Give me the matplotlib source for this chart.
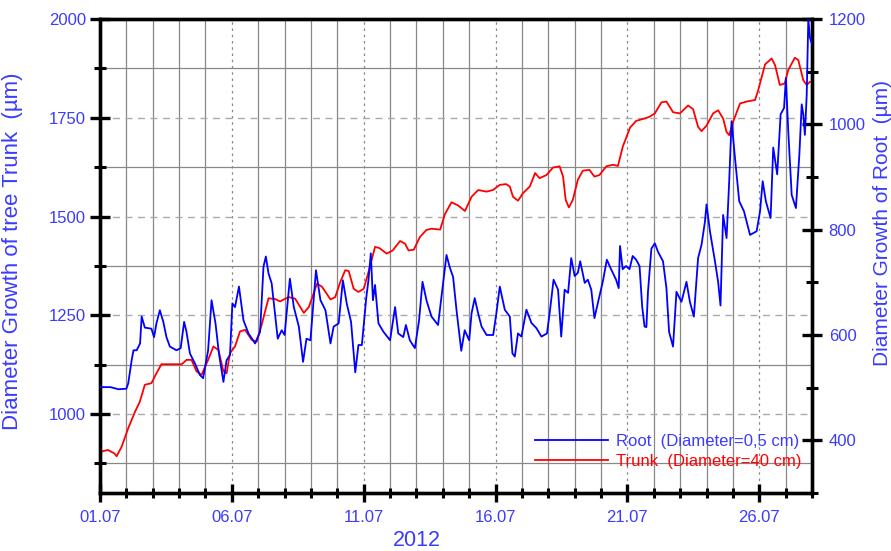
import matplotlib
matplotlib.use("Agg")
import matplotlib.pyplot as plt
from matplotlib.lines import Line2D
from matplotlib.ticker import MultipleLocator, FixedLocator

plt.rcParams['font.family'] = ['Liberation Sans', 'DejaVu Sans']

# days since 01.07.2012
trunk_day = [0, 0.05, 0.3, 0.55, 0.63, 0.82, 1.07, 1.33, 1.51, 1.7, 1.95, 2.14, 2.33, 3.1, 3.28,
             3.47, 3.66, 3.85, 4.1, 4.3, 4.49, 4.68, 4.8, 4.93, 5.12, 5.31, 5.5, 5.75, 5.94, 6.13,
             6.39, 6.64, 6.83, 7.0, 7.16, 7.4, 7.73, 7.92, 8.23, 8.42, 8.74, 8.92, 9.11, 9.3, 9.43,
             9.62, 9.8, 10.0, 10.18, 10.43, 10.6, 10.87, 11.1, 11.38, 11.57, 11.7, 11.9, 12.13,
             12.38, 12.57, 12.9, 13.08, 13.33, 13.58, 13.84, 14.09, 14.34, 14.66, 14.9, 15.16,
             15.4, 15.54, 15.66, 15.85, 16.04, 16.3, 16.5, 16.67, 16.93, 17.18, 17.43, 17.56,
             17.66, 17.78, 17.93, 18.12, 18.31, 18.56, 18.75, 18.94, 19.2, 19.45, 19.64, 19.83,
             20.1, 20.33, 20.7, 20.85, 21.04, 21.29, 21.48, 21.73, 21.99, 22.3, 22.49, 22.68,
             22.81, 23.0, 23.25, 23.44, 23.63, 23.76, 23.86, 24.01, 24.27, 24.52, 24.84, 24.96,
             25.22, 25.47, 25.6, 25.78, 25.97, 26.1, 26.35, 26.48, 26.67, 26.8, 26.92]
trunk_um = [835, 905, 909, 900, 893, 917, 964, 1006, 1031, 1074, 1078, 1103, 1126, 1126, 1137,
            1137, 1108, 1099, 1137, 1171, 1162, 1108, 1103, 1154, 1171, 1209, 1213, 1188, 1183, 1226,
            1293, 1291, 1285, 1291, 1296, 1292, 1256, 1271, 1330, 1322, 1290, 1296, 1334, 1364, 1362,
            1317, 1309, 1317, 1359, 1423, 1420, 1406, 1414, 1438, 1431, 1414, 1416, 1448,
            1466, 1469, 1467, 1506, 1536, 1528, 1514, 1550, 1567, 1563, 1567, 1580,
            1582, 1576, 1550, 1540, 1559, 1576, 1610, 1597, 1605, 1624, 1627, 1601,
            1542, 1523, 1542, 1593, 1616, 1618, 1601, 1605, 1627, 1631, 1628, 1678,
            1725, 1742, 1749, 1753, 1761, 1789, 1791, 1764, 1761, 1781, 1772, 1727,
            1716, 1730, 1761, 1769, 1748, 1714, 1706, 1740, 1786, 1791, 1795, 1820,
            1885, 1900, 1883, 1833, 1837, 1871, 1902, 1896, 1845, 1833, 1841]

root_day = [0, 0.4, 0.7, 1.0, 1.07, 1.2, 1.27, 1.39, 1.52, 1.58, 1.7, 1.95, 2.05, 2.14, 2.27, 2.4,
            2.52, 2.65, 2.9, 3.06, 3.19, 3.28, 3.41, 3.6, 3.79, 3.91, 4.1, 4.23, 4.38, 4.51, 4.68,
            4.8, 4.93, 5.02, 5.12, 5.27, 5.44, 5.63, 5.88, 6.07, 6.2, 6.29, 6.39, 6.51, 6.74, 6.89,
            7.0, 7.2, 7.35, 7.54, 7.7, 7.83, 7.98, 8.1, 8.19, 8.36, 8.55, 8.74, 8.86, 9.05, 9.21,
            9.36, 9.52, 9.68, 9.8, 9.93, 10.1, 10.18, 10.27, 10.35, 10.43, 10.56, 10.75, 11.0,
            11.19, 11.31, 11.5, 11.6, 11.75, 11.94, 12.1, 12.23, 12.38, 12.57, 12.82, 13.01,
            13.14, 13.26, 13.39, 13.52, 13.7, 13.83, 14.0, 14.09, 14.21, 14.34, 14.47, 14.66,
            14.91, 15.03, 15.16, 15.35, 15.54, 15.64, 15.73, 15.85, 15.98, 16.17, 16.36, 16.55,
            16.74, 16.95, 17.05, 17.2, 17.37, 17.49, 17.62, 17.75, 17.87, 18.0, 18.12, 18.21,
            18.38, 18.5, 18.63, 18.75, 18.88, 19.07, 19.22, 19.38, 19.57, 19.67, 19.72, 19.82,
            19.95, 20.08, 20.2, 20.33, 20.46, 20.56, 20.65, 20.72, 20.78, 20.91, 21.04, 21.16,
            21.35, 21.48, 21.58, 21.73, 21.86, 22.05, 22.24, 22.37, 22.52, 22.68, 22.81, 22.94,
            23.0, 23.13, 23.32, 23.44, 23.53, 23.63, 23.76, 23.86, 23.95, 24.08, 24.24, 24.42,
            24.65, 24.9, 25.03, 25.13, 25.25, 25.43, 25.53, 25.68, 25.81, 25.94, 26.01, 26.1,
            26.23, 26.39, 26.52, 26.61, 26.67, 26.73, 26.8, 26.86, 26.92, 27.0]
root_um = [501, 501, 497, 498, 508, 552, 571, 571, 584, 635, 614, 612, 596, 622, 647, 625,
           596, 578, 571, 575, 625, 606, 565, 546, 524, 518, 571, 666, 622, 565, 511,
           552, 562, 660, 653, 692, 628, 603, 584, 606, 730, 749, 717, 698, 593, 609,
           600, 707, 653, 616, 549, 593, 590, 666, 723, 666, 647, 584, 616, 622, 704,
           659, 625, 529, 581, 581, 672, 704, 755, 666, 695, 622, 606, 590,
           653, 603, 596, 619, 590, 575, 628, 701, 666, 635, 619, 698,
           752, 729, 710, 647, 570, 609, 590, 641, 670, 641, 616, 600,
           600, 641, 692, 648, 635, 565, 559, 603, 597, 648, 623, 613,
           597, 603, 641, 705, 686, 597, 686, 680, 746, 712, 718, 740,
           699, 705, 686, 632, 661, 702, 743, 725, 705, 689, 769, 725,
           731, 725, 750, 743, 731, 654, 616, 615, 682, 764, 774, 758,
           740, 689, 606, 578, 682, 663, 701, 663, 635, 746, 771, 815,
           848, 797, 740, 701, 656, 828, 784, 892, 1006, 936, 854, 835,
           790, 797, 835, 892, 854, 822, 956, 905, 1019, 1031, 1088, 987,
           866, 841, 942, 1038, 1019, 980, 1057, 1200, 1165, 1152]

date_ticks = [0, 5, 10, 15, 20, 25]
date_labels = ["01.07", "06.07", "11.07", "16.07", "21.07", "26.07"]

txt_blue = "#3b3bff"

fig = plt.figure(figsize=(8.91, 5.51), dpi=100)
ax = fig.add_axes([100/891, 1-493/551, 712/891, 474/551])
ax2 = ax.twinx()

ax.plot(trunk_day, trunk_um, color="red", lw=1.3, zorder=3)
ax2.plot(root_day, root_um, color="blue", lw=1.3, zorder=3)

ax.set_xlim(0, 27)
ax.set_ylim(800, 2000)
ax2.set_ylim(300, 1200)

ax.xaxis.set_major_locator(FixedLocator(date_ticks))
ax.set_xticklabels(date_labels)
ax.xaxis.set_minor_locator(MultipleLocator(1))
ax.yaxis.set_major_locator(FixedLocator([1000, 1250, 1500, 1750, 2000]))
ax.yaxis.set_minor_locator(FixedLocator([875, 1125, 1375, 1625, 1875]))
ax2.yaxis.set_major_locator(FixedLocator([400, 600, 800, 1000, 1200]))
ax2.yaxis.set_minor_locator(FixedLocator([300, 500, 700, 900, 1100]))

ax.grid(which="minor", color="#888888", lw=0.9, ls="-")
ax.grid(which="major", axis="y", color="#aaaaaa", lw=1.0, ls=(0, (5, 4)))
ax.grid(which="major", axis="x", color="#888888", lw=0.9, ls=(0, (2, 3)))
ax.set_axisbelow(True)

for a in (ax, ax2):
    for s in a.spines.values():
        s.set_linewidth(2.4)
    a.tick_params(which="major", direction="inout", length=14, width=2.4,
                  labelsize=12, labelcolor=txt_blue, pad=5)
    a.tick_params(which="minor", direction="inout", length=8, width=2.2)
ax.tick_params(axis="y", which="major", pad=3)
ax.tick_params(axis="x", which="major", length=13, pad=6)
ax.tick_params(axis="x", which="minor", length=7)

ax.set_ylabel("Diameter Growth of tree Trunk  (µm)", color=txt_blue, fontsize=16)
ax.yaxis.set_label_coords(-0.108, 0.51)
ax2.set_ylabel("Diameter Growth of Root  (µm)", color=txt_blue, fontsize=15)
ax2.yaxis.set_label_coords(1.085, 0.57)
ax.set_xlabel("2012", color=txt_blue, fontsize=15.5)
ax.xaxis.set_label_coords((417-100)/712, -0.078)

handles = [Line2D([], [], color="blue", lw=1.3), Line2D([], [], color="red", lw=1.3)]
leg = ax2.legend(handles, ["Root  (Diameter=0,5 cm)", "Trunk  (Diameter=40 cm)"],
                 loc="lower right", bbox_to_anchor=(0.985, 0.05), borderaxespad=0,
                 borderpad=0, frameon=False,
                 fontsize=12, handlelength=4.4, handletextpad=0.45, labelspacing=0.3,
                 labelcolor=[txt_blue, "red"])

fig.savefig("out.png", dpi=100)
